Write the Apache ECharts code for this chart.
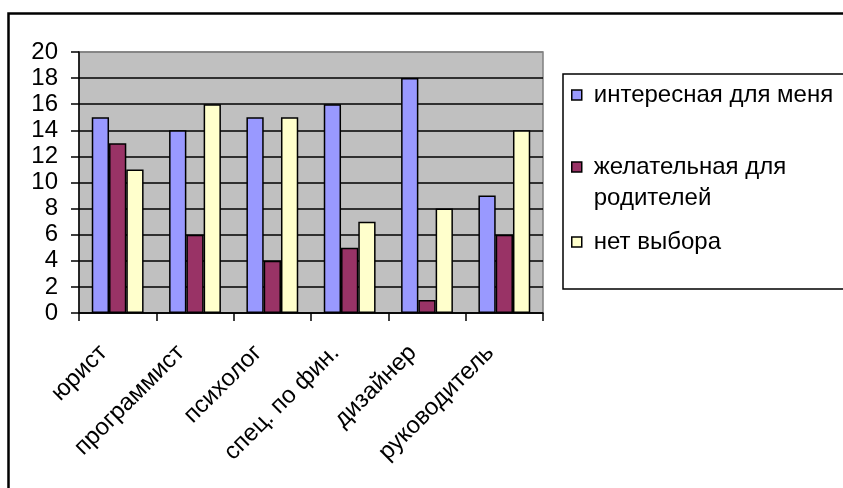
<!DOCTYPE html>
<html><head><meta charset="utf-8">
<script src="https://cdn.jsdelivr.net/npm/echarts@6/dist/echarts.min.js"></script>
<style>html,body{margin:0;padding:0;background:#fff;}#c{width:843px;height:488px;}</style>
</head><body><div id="c"></div>
<script>
const categories = ['юрист','программист','психолог','спец. по фин.','дизайнер','руководитель'];
const seriesNames = ['интересная для меня','желательная для родителей','нет выбора'];
const interesting = [15,14,15,16,18,9];
const parents = [13,6,4,5,1,6];
const noChoice = [11,16,15,7,8,14];
const yTicks = [0,2,4,6,8,10,12,14,16,18,20];
const colors = ['#9999FF','#993366','#FFFFCC'];

const FONT = 'Liberation Sans, Arial, sans-serif';
const FS = 24;
const chart = echarts.init(document.getElementById('c'));
const legendBase = {
  orient:'vertical', left:571, padding:0, itemWidth:10, itemHeight:10,
  icon:'rect', selectedMode:false,
  itemStyle:{borderColor:'#000', borderWidth:1.5}
};
const legendText = {fontFamily:FONT, fontSize:FS, color:'#000', lineHeight:31, padding:[0,0,0,7]};
const splitColors = yTicks.map((v,i)=> i===yTicks.length-1 ? '#808080' : '#000');
chart.setOption({
  animation:false,
  backgroundColor:'#fff',
  textStyle:{fontFamily:FONT},
  grid:{left:79, right:300, top:52, bottom:175, show:true, backgroundColor:'#C0C0C0', borderColor:'#808080', borderWidth:1.5},
  graphic:[
    {type:'rect', left:6, top:11, shape:{x:0,y:0,width:900,height:600}, style:{fill:'none', stroke:'#000', lineWidth:2.5}, z:-1},
    {type:'rect', shape:{x:563,y:74,width:400,height:215}, style:{fill:'none', stroke:'#000', lineWidth:1.5}}
  ],
  legend:[
    Object.assign({}, legendBase, {top:79.5, data:[seriesNames[0]], textStyle:legendText}),
    Object.assign({}, legendBase, {top:120.5, data:[seriesNames[1]],
      formatter:n=>'\u00a0\nжелательная для\nродителей', textStyle:legendText}),
    Object.assign({}, legendBase, {top:226.5, data:[seriesNames[2]], textStyle:legendText})
  ],
  xAxis:{
    type:'category', data:categories, boundaryGap:true,
    axisLine:{lineStyle:{color:'#000', width:1.5}},
    axisTick:{show:true, inside:false, length:8, lineStyle:{color:'#000', width:1.5}},
    axisLabel:{rotate:45, interval:0, margin:22, padding:[0,20,0,0], fontFamily:FONT, fontSize:FS, color:'#000'},
    splitLine:{show:false}
  },
  yAxis:{
    type:'value', min:0, max:20, interval:2,
    axisLine:{show:true, lineStyle:{color:'#000', width:1.5}},
    axisTick:{show:true, inside:false, length:8, lineStyle:{color:'#000', width:1.5}},
    axisLabel:{margin:21, fontFamily:FONT, fontSize:FS, color:'#000'},
    splitLine:{show:true, lineStyle:{color:splitColors, width:1.5}}
  },
  series:[interesting, parents, noChoice].map((d,i)=>({
    name:seriesNames[i], type:'bar', data:d,
    barGap:'0%', barCategoryGap:'33%',
    itemStyle:{color:colors[i], borderColor:'#000', borderWidth:1.5}
  }))
});
</script></body></html>
